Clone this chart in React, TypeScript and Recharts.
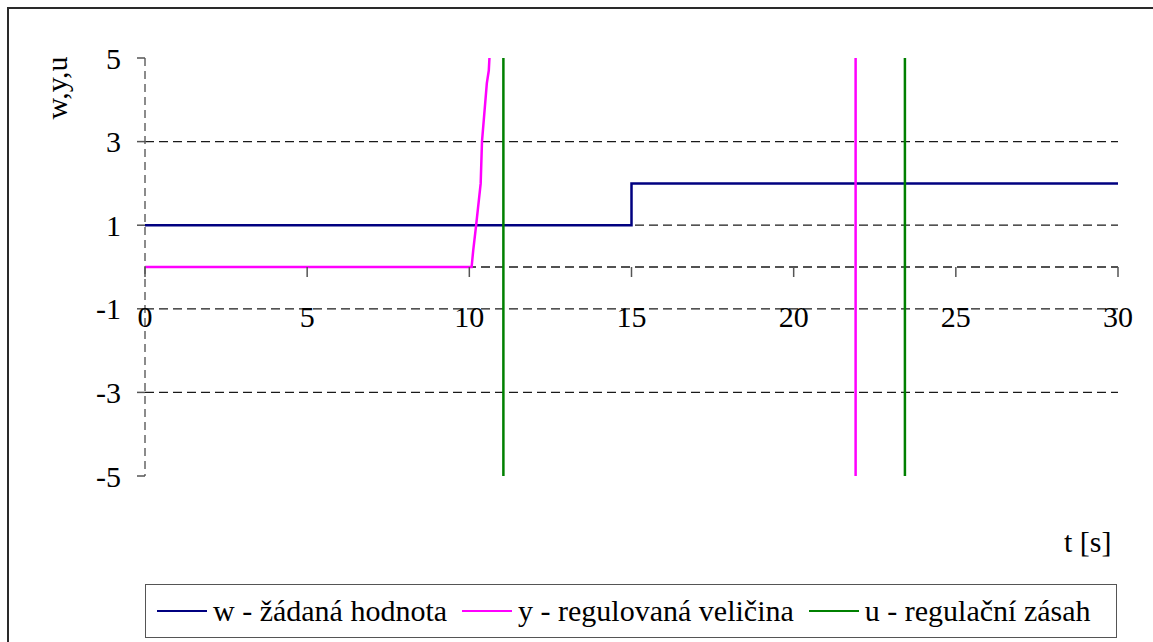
import React from 'react';
import { LineChart, Line, XAxis, YAxis, CartesianGrid, ReferenceDot } from 'recharts';

// Time axis (s) and value axis
const xTicks = [0, 5, 10, 15, 20, 25, 30];
const yTicks = [-5, -3, -1, 1, 3, 5];
const gridValues = [-3, -1, 0, 1, 3];

// w - setpoint
const wT = [0, 15, 15, 30];
const wV = [1, 1, 2, 2];

// y - controlled variable (diverges beyond the plotted range)
const yT = [0, 10.07, 10.12, 10.21, 10.35, 10.39, 10.54, 10.6, 10.62, 10.66, 10.7, 21.91, 21.91, 30];
const yV = [0, 0, 0.4, 1.0, 2.0, 3.0, 4.4, 4.7, 5.0, 7, 12, 12, -12, -12];

// u - control action (off the plotted range except at its jumps)
const uT = [0, 11.05, 11.05, 23.43, 23.43, 30];
const uV = [-12, -12, 12, 12, -12, -12];

const seriesNames = ['w - žádaná hodnota', 'y - regulovaná veličina', 'u - regulační zásah'];
const seriesColors = ['#000080', '#FF00FF', '#008000'];

const toRows = (ts: number[], vs: number[]) => ts.map((t, i) => ({ t, v: vs[i] }));
const wData = toRows(wT, wV);
const yData = toRows(yT, yV);
const uData = toRows(uT, uV);

const FONT = '"Liberation Serif", "Times New Roman", serif';

const XTickMark = (props: any) => {
  const { cx, cy, label } = props;
  if (cx == null || cy == null) return <g />;
  return (
    <g>
      <line x1={cx} x2={cx} y1={cy} y2={cy + 10} stroke="#555" strokeWidth={1.5} />
      <text x={cx} y={cy + 60} textAnchor="middle" fontFamily={FONT} fontSize={30} fill="#000">
        {label}
      </text>
    </g>
  );
};

export default function App() {
  return (
    <div style={{ position: 'fixed', left: 0, top: 0, width: 1153, height: 642, background: '#fff', overflow: 'hidden' }}>
      <div
        style={{
          position: 'absolute', left: 7, top: 7, width: 1160, height: 650,
          borderTop: '2px solid #2a2a2a', borderLeft: '2px solid #2a2a2a', pointerEvents: 'none',
        }}
      />
      <div style={{ position: 'absolute', left: 0, top: 0 }}>
        <LineChart width={1153} height={642} margin={{ top: 58, right: 35, bottom: 166, left: 85 }}>
          <CartesianGrid
            horizontal
            vertical={false}
            horizontalValues={gridValues}
            stroke="#1a1a1a"
            strokeDasharray="9 5"
            strokeWidth={1.3}
          />
          <XAxis dataKey="t" type="number" domain={[0, 30]} ticks={xTicks} allowDataOverflow hide />
          <YAxis
            type="number"
            domain={[-5, 5]}
            ticks={yTicks}
            allowDataOverflow
            width={60}
            axisLine={{ stroke: '#666', strokeDasharray: '8 5', strokeWidth: 1.5 }}
            tickLine={{ stroke: '#555', strokeWidth: 1.5 }}
            tickSize={8}
            tickMargin={16}
            tick={{ fontFamily: FONT, fontSize: 30, fill: '#000' }}
          />
          {xTicks.map((t) => (
            <ReferenceDot
              key={t}
              x={t}
              y={0}
              r={0}
              isFront
              shape={(p: any) => <XTickMark {...p} label={t} />}
            />
          ))}
          <Line data={wData} dataKey="v" type="linear" stroke={seriesColors[0]} strokeWidth={2.5} dot={false} isAnimationActive={false} />
          <Line data={yData} dataKey="v" type="linear" stroke={seriesColors[1]} strokeWidth={2.5} dot={false} isAnimationActive={false} />
          <Line data={uData} dataKey="v" type="linear" stroke={seriesColors[2]} strokeWidth={2.5} dot={false} isAnimationActive={false} />
        </LineChart>
      </div>
      <div
        style={{
          position: 'absolute', left: 57, top: 88, transform: 'translate(-50%, -50%) rotate(-90deg)',
          fontFamily: FONT, fontSize: 30, whiteSpace: 'nowrap', lineHeight: 1,
        }}
      >
        w,y,u
      </div>
      <div
        style={{
          position: 'absolute', left: 1064, top: 527, fontFamily: FONT, fontSize: 30, whiteSpace: 'nowrap', lineHeight: 1,
        }}
      >
        t [s]
      </div>
      <div
        style={{
          position: 'absolute', left: 145, top: 584, width: 972, height: 54, boxSizing: 'border-box',
          border: '1.5px solid #555', display: 'flex', alignItems: 'center', paddingLeft: 11,
          fontFamily: FONT, fontSize: 30, whiteSpace: 'nowrap',
        }}
      >
        {seriesNames.map((name, i) => (
          <div key={name} style={{ display: 'flex', alignItems: 'center', marginRight: 15 }}>
            <span style={{ display: 'inline-block', width: 50, height: 2.5, background: seriesColors[i], marginRight: 6 }} />
            <span style={{ lineHeight: 1 }}>{name}</span>
          </div>
        ))}
      </div>
    </div>
  );
}
